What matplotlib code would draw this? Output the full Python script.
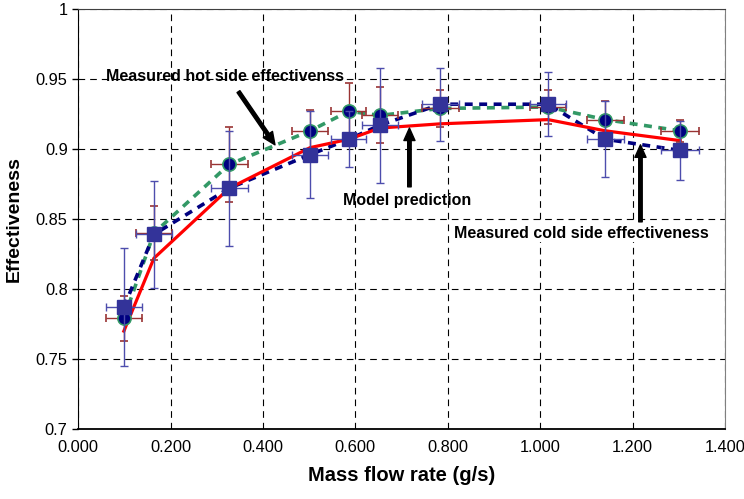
import matplotlib
matplotlib.use('Agg')
from matplotlib import pyplot as plt

plt.rcParams['font.family'] = ['Liberation Sans', 'DejaVu Sans']

# mass flow rate (g/s)
flow = [0.099, 0.164, 0.327, 0.502, 0.586, 0.653, 0.784, 1.017, 1.141, 1.303]
flow_err = [0.039, 0.039, 0.040, 0.039, 0.038, 0.039, 0.040, 0.039, 0.040, 0.041]

# measured effectiveness
hot = [0.779, 0.840, 0.889, 0.913, 0.927, 0.924, 0.929, 0.930, 0.921, 0.913]
hot_err = [0.016, 0.019, 0.027, 0.015, 0.020, 0.020, 0.013, 0.012, 0.013, 0.008]
cold = [0.787, 0.839, 0.872, 0.896, 0.907, 0.917, 0.932, 0.932, 0.907, 0.899]
cold_err = [0.042, 0.038, 0.041, 0.031, 0.020, 0.041, 0.026, 0.023, 0.027, 0.021]

# model
model = [0.770, 0.822, 0.872, 0.901, 0.907, 0.915, 0.918, 0.921, 0.913, 0.906]

xticks = [0.0, 0.2, 0.4, 0.6, 0.8, 1.0, 1.2, 1.4]
yticks = [0.7, 0.75, 0.8, 0.85, 0.9, 0.95, 1.0]
ytick_labels = ['0.7', '0.75', '0.8', '0.85', '0.9', '0.95', '1']

fig = plt.figure(figsize=(7.44, 4.99), dpi=100)
ax = fig.add_axes([0.105, 0.140, 0.8695, 0.842])

ax.plot(flow, hot, color='#339966', lw=2.6, dashes=(2.2, 1.8), zorder=2)
ax.plot(flow, cold, color='#000080', lw=2.6, dashes=(2.2, 1.8), zorder=2)
ax.plot(flow, model, color='#ff0000', lw=2.3, zorder=3)

ax.errorbar(flow, hot, yerr=hot_err, xerr=flow_err, fmt='o', ms=9.5,
            mfc='#000080', mec='#339966', mew=1.2, ecolor='#993333',
            elinewidth=1, capsize=3, zorder=4)
ax.errorbar(flow, cold, yerr=cold_err, xerr=flow_err, fmt='s', ms=9.5,
            mfc='#333399', mec='#333399', ecolor='#4d4dad',
            elinewidth=1, capsize=3, zorder=5)

ax.set_xlim(0, 1.4)
ax.set_ylim(0.7, 1.0)
ax.set_xticks(xticks)
ax.set_xticklabels(['%.3f' % v for v in xticks])
ax.set_yticks(yticks)
ax.set_yticklabels(ytick_labels)
ax.tick_params(labelsize=11.8, direction='out', length=4, width=1)
ax.tick_params(axis='x', length=0, pad=8)
ax.grid(True, color='black', linestyle=(0, (6, 4.5)), lw=0.8)
ax.set_axisbelow(True)

ax.spines['left'].set_color('black')
ax.spines['bottom'].set_color('black')
ax.spines['bottom'].set_linewidth(1.3)
ax.spines['top'].set_color('#404040')
ax.spines['right'].set_color('#808080')

ax.set_xlabel('Mass flow rate (g/s)', fontsize=14.5, fontweight='bold', labelpad=8)
ax.set_ylabel('Effectiveness', fontsize=14, fontweight='bold', labelpad=9)

arrow = dict(facecolor='black', edgecolor='black', width=2.5, headwidth=8, headlength=9, shrink=0)
ax.annotate('', xy=(0.426, 0.903), xytext=(0.347, 0.941), arrowprops=arrow, zorder=6)
ax.annotate('', xy=(0.717, 0.915), xytext=(0.717, 0.873), arrowprops=arrow, zorder=6)
ax.annotate('', xy=(1.217, 0.903), xytext=(1.217, 0.848), arrowprops=arrow, zorder=6)

ax.text(0.317, 0.952, 'Measured hot side effectivenss', fontsize=11.5, fontweight='bold',
        ha='center', va='center', zorder=7)
ax.text(0.712, 0.863, 'Model prediction', fontsize=11.5, fontweight='bold',
        ha='center', va='center', zorder=7)
ax.text(1.089, 0.840, 'Measured cold side effectiveness', fontsize=11.5, fontweight='bold',
        ha='center', va='center', zorder=7,
        bbox=dict(facecolor='white', edgecolor='none', pad=1))

fig.savefig('out.png', dpi=100)
